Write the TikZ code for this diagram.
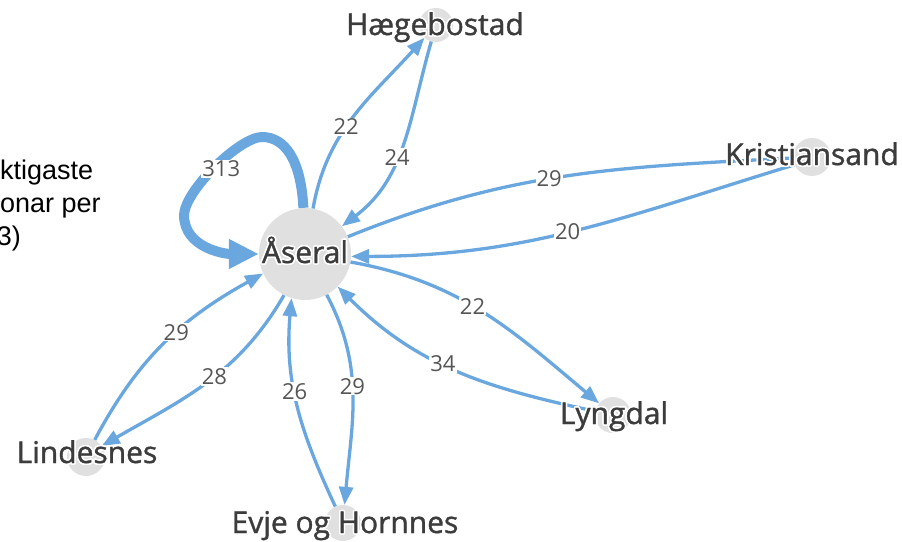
\documentclass[tikz,border=0pt]{standalone}
\usepackage{fontspec}
\usepackage{contour}
\setmainfont{Open Sans}
\newfontfamily\nodefont{Open Sans}[FakeBold=1.2]
\newfontfamily\numfont{Open Sans}
\newfontfamily\arialfont{Liberation Sans}
\usetikzlibrary{arrows.meta}
\definecolor{edgeblue}{RGB}{106,167,222}
\definecolor{nodegray}{RGB}{224,224,224}
\definecolor{labelgray}{RGB}{60,60,60}
\definecolor{numgray}{RGB}{85,85,85}
\contourlength{1.6pt}
\begin{document}
\begin{tikzpicture}[x=1pt,y=-1pt,
  city/.style={circle,fill=nodegray,draw=none,inner sep=0pt},
  cityname/.style={anchor=base,inner sep=0pt,text=labelgray,font=\nodefont\fontsize{30}{36}\selectfont},
  flow/.style={draw=edgeblue,line width=3.3pt,-{Triangle[length=18pt,width=14pt]}},
  flownotip/.style={draw=edgeblue,line width=3.3pt},
  bigflow/.style={draw=edgeblue,line width=10pt,-{Triangle[length=30pt,width=28pt]}},
  num/.style={fill=white,inner sep=1pt,text=numgray,font=\numfont\fontsize{22}{26}\selectfont},
  note/.style={inner sep=0pt,font=\arialfont\fontsize{27}{32}\selectfont}]
\useasboundingbox (0,0) rectangle (902,541);

% cities (circles)
\node[city,minimum size=92pt] (A) at (305,254) {};
\node[city,minimum size=34pt] (H) at (436,25) {};
\node[city,minimum size=38pt] (K) at (812,157) {};
\node[city,minimum size=36pt] (Ly) at (613,415) {};
\node[city,minimum size=38pt] (Li) at (86,457) {};
\node[city,minimum size=36pt] (E) at (343,523) {};

% flows
\draw[bigflow] (A.92) .. controls (301,160) and (285,137) .. (262,137)
   .. controls (240,137) and (185,190) .. (184,215) node[num,pos=0.44,yshift=-8pt] {313}
   .. controls (184,248) and (225,254) .. (A.180);
\draw[flow] (A.80) to[out=80,in=228] node[num,pos=0.43] {22} (H.228);
\draw[flow] (H.254) to[out=254,in=37] node[num,pos=0.57] {24} (A.37);
\draw[flownotip] (A.22) to[out=22,in=183] node[num,pos=0.46] {29} (K.183);
\draw[flow] (K.204) to[out=197,in=0] node[num,pos=0.52] {20} (A.-3);
\draw[flow] (A.-10) to[out=-10,in=140] node[num,pos=0.45] {22} (Ly.140);
\draw[flow] (Ly.168) to[out=168,in=315] node[num,pos=0.55] {34} (A.315);
\draw[flow] (A.-62) to[out=-62,in=85] node[num,pos=0.45] {29} (E.85);
\draw[flow] (E.115) to[out=115,in=265] node[num,pos=0.57] {26} (A.253);
\draw[flow] (A.243) to[out=240,in=30] node[num,pos=0.45] {28} (Li.35);
\draw[flow] (Li.63) to[out=62,in=209] node[num,pos=0.57] {29} (A.205);

% city names
\node[cityname] (tA) at (305,263) {\contour{white}{Åseral}};
\node[cityname] (tH) at (435,35) {\contour{white}{Hægebostad}};
\node[cityname] (tK) at (812,165) {\contour{white}{Kristiansand}};
\node[cityname] (tLy) at (614,424) {\contour{white}{Lyngdal}};
\node[cityname] (tLi) at (87,463) {\contour{white}{Lindesnes}};
\node[cityname] (tE) at (345,533) {\contour{white}{Evje og Hornnes}};

% clipped title fragments
\node[note,anchor=base west] (n1) at (0,179) {ktigaste};
\node[note,anchor=base west] (n2) at (0,212) {onar per};
\node[note,anchor=base east] (n3) at (21,245) {3)};
\end{tikzpicture}
\end{document}
